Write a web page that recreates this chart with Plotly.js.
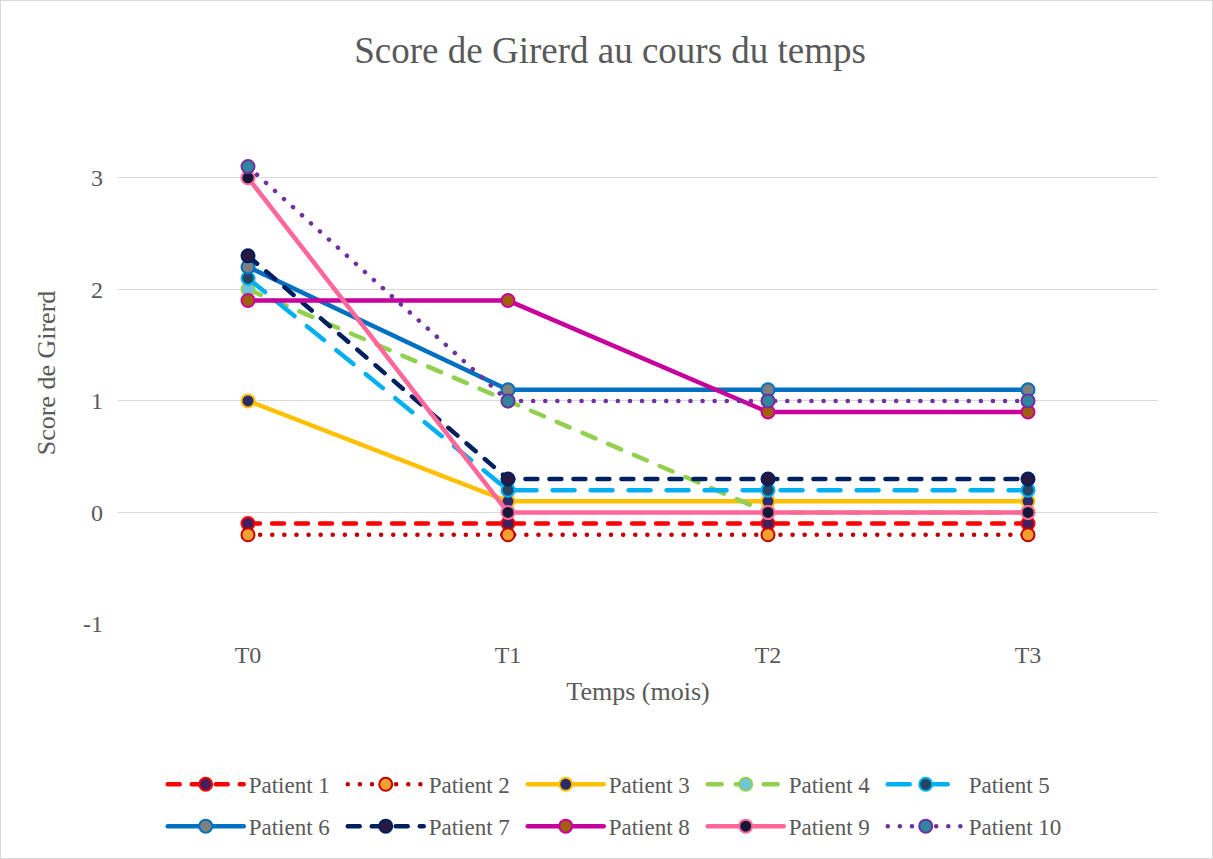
<!DOCTYPE html>
<html>
<head>
<meta charset="utf-8">
<script src="https://cdn.plot.ly/plotly-3.0.1.min.js"></script>
<style>
  html, body { margin: 0; padding: 0; background: #fff; }
  #wrap { position: relative; width: 1213px; height: 859px; }
  #chart { width: 1213px; height: 859px; }
  #frame { position: absolute; left: 0; top: 0; width: 1213px; height: 859px; box-sizing: border-box; border: 1px solid #d9d9d9; pointer-events: none; }
  path.js-line { stroke-linecap: round; }
</style>
</head>
<body>
<div id="wrap"><div id="chart"></div><div id="frame"></div></div>
<script>
const categories = ['T0', 'T1', 'T2', 'T3'];
const seriesNames = ['Patient 1', 'Patient 2', 'Patient 3', 'Patient 4', 'Patient 5',
                     'Patient 6', 'Patient 7', 'Patient 8', 'Patient 9', 'Patient 10'];
const patient1 = [-0.1, -0.1, -0.1, -0.1];
const patient2 = [-0.2, -0.2, -0.2, -0.2];
const patient3 = [1.0, 0.1, 0.1, 0.1];
const patient4 = [2.0, 1.0, 0.0, 0.0];
const patient5 = [2.1, 0.2, 0.2, 0.2];
const patient6 = [2.2, 1.1, 1.1, 1.1];
const patient7 = [2.3, 0.3, 0.3, 0.3];
const patient8 = [1.9, 1.9, 0.9, 0.9];
const patient9 = [3.0, 0.0, 0.0, 0.0];
const patient10 = [3.1, 1.0, 1.0, 1.0];
const yTicks = [-1, 0, 1, 2, 3];

const values = [patient1, patient2, patient3, patient4, patient5,
                patient6, patient7, patient8, patient9, patient10];

const styles = [
  { line: '#FF0000', dash: '12px,12px', fill: '#41205F' },
  { line: '#C00000', dash: '0.1px,12px', fill: '#F4A030' },
  { line: '#FFC000', dash: 'solid', fill: '#2B2A6B' },
  { line: '#92D050', dash: '14px,14px', fill: '#6EC6DE' },
  { line: '#00B0F0', dash: '22px,16px', fill: '#244563' },
  { line: '#0070C0', dash: 'solid', fill: '#7F7F7F' },
  { line: '#002060', dash: '12px,12px', fill: '#2A1840' },
  { line: '#C8009C', dash: 'solid', fill: '#A0600A' },
  { line: '#FF6699', dash: 'solid', fill: '#141838' },
  { line: '#7030A0', dash: '0.1px,12px', fill: '#2E879F' }
];

const font = 'Liberation Serif, Times New Roman, serif';
const grey = '#595959';

const traces = values.map((v, i) => ({
  type: 'scatter',
  mode: 'lines+markers',
  name: seriesNames[i],
  x: categories,
  y: v,
  legend: i < 5 ? 'legend' : 'legend2',
  line: { color: styles[i].line, width: 4.5, dash: styles[i].dash },
  marker: { size: 13, color: styles[i].fill, line: { color: styles[i].line, width: 2 } }
}));

const legendCommon = {
  orientation: 'h',
  xanchor: 'left',
  yanchor: 'middle',
  x: 0.043,
  font: { family: font, size: 23, color: grey },
  entrywidth: 89,
  itemwidth: 76,
  bgcolor: 'rgba(0,0,0,0)'
};

const layout = {
  width: 1213,
  height: 859,
  margin: { l: 118, r: 55, t: 122, b: 233 },
  paper_bgcolor: '#ffffff',
  plot_bgcolor: '#ffffff',
  showlegend: true,
  title: {
    text: 'Score de Girerd au cours du temps',
    font: { family: font, size: 37, color: grey },
    x: 0.503, xref: 'container', xanchor: 'center',
    y: 1 - 50 / 859, yref: 'container', yanchor: 'middle'
  },
  xaxis: {
    type: 'category',
    range: [-0.5, 3.5],
    showgrid: false,
    zeroline: false,
    showline: false,
    ticks: '',
    ticklabelstandoff: 14,
    tickfont: { family: font, size: 24, color: grey },
    title: { text: 'Temps (mois)', font: { family: font, size: 26, color: grey }, standoff: 14 }
  },
  yaxis: {
    range: [-1, 3.5],
    tickvals: yTicks,
    ticktext: yTicks.map(String),
    showgrid: true,
    gridcolor: '#d9d9d9',
    gridwidth: 1,
    zeroline: false,
    showline: false,
    ticks: '',
    ticklabelstandoff: 14,
    tickfont: { family: font, size: 24, color: grey },
    title: { text: 'Score de Girerd', font: { family: font, size: 26, color: grey }, standoff: 19 }
  },
  legend: Object.assign({}, legendCommon, { y: (626 - 787) / 504 }),
  legend2: Object.assign({}, legendCommon, { y: (626 - 829) / 504 })
};

Plotly.newPlot('chart', traces, layout, { displayModeBar: false, staticPlot: true });
</script>
</body>
</html>
